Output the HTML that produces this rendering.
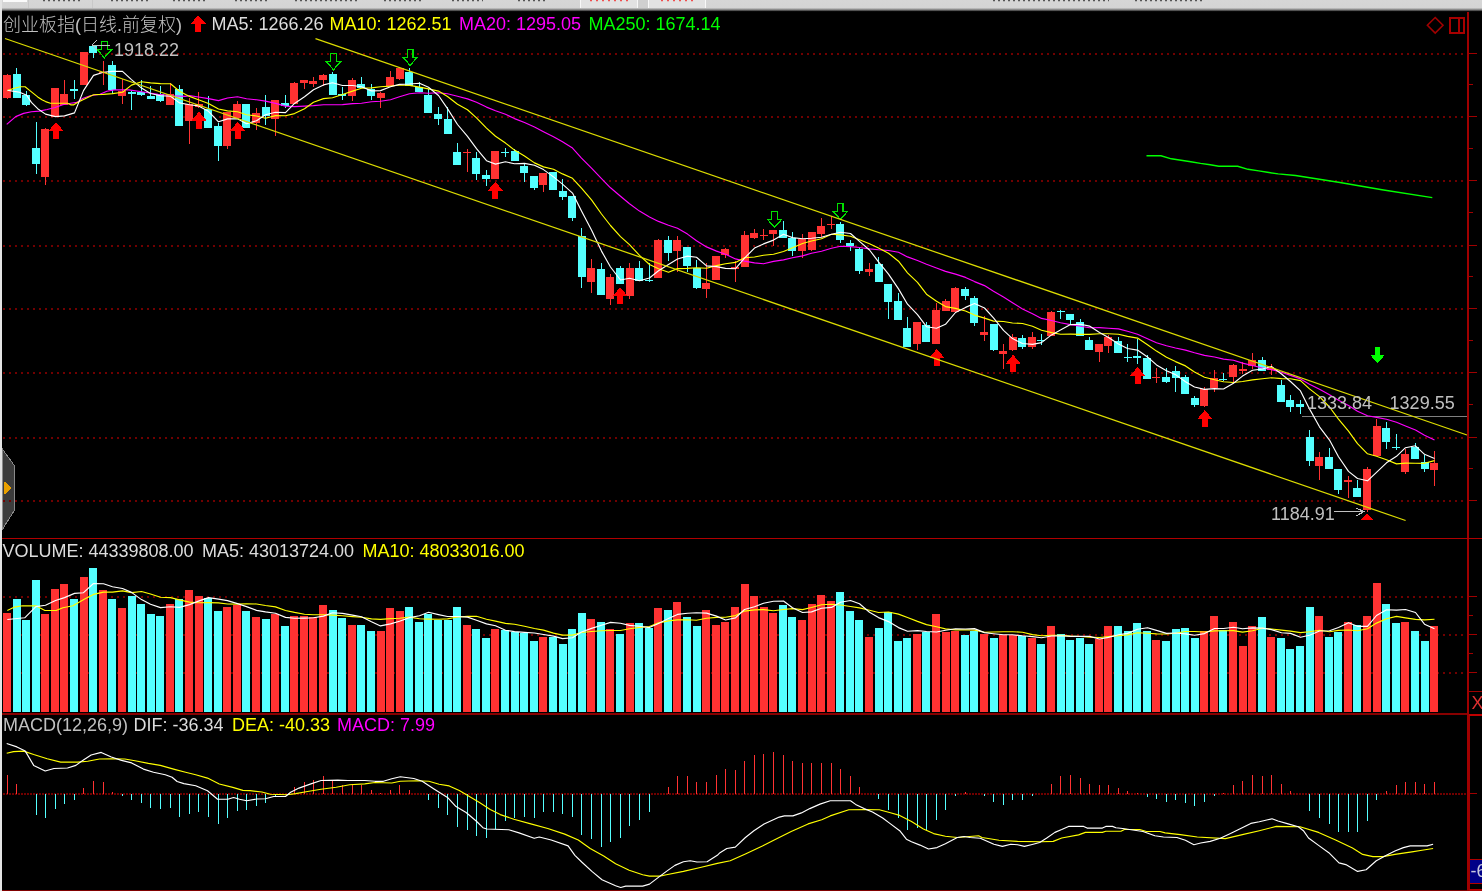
<!DOCTYPE html>
<html><head><meta charset="utf-8"><title>创业板指</title><style>
html,body{margin:0;padding:0;background:#000;width:1482px;height:891px;overflow:hidden}
#top{position:absolute;left:0;top:0;width:1482px;height:12px;background:linear-gradient(#d6d6d6 0,#d4d4d4 7.5px,#a8a8a8 9px,#606060 10.3px,#000 11.6px)}
#lb{position:absolute;left:0;top:0;width:2px;height:891px;background:#e4e4e4}
svg{position:absolute;left:0;top:0;display:block}
</style></head><body>
<svg width="1482" height="891" viewBox="0 0 1482 891">
<g shape-rendering="crispEdges">
<polygon fill="#3c3c3c" stroke="#8a8a8a" stroke-width="1" points="2,448.5 14.5,465.8 14.5,510.2 2,530"/>
<polygon fill="#e8a000" points="3.5,480.6 11.4,488 3.5,495.4"/>
<line x1="3" y1="54" x2="1466" y2="54" stroke="#700000" stroke-width="2" stroke-dasharray="2 4"/>
<line x1="3" y1="117" x2="1466" y2="117" stroke="#700000" stroke-width="2" stroke-dasharray="2 4"/>
<line x1="3" y1="181" x2="1466" y2="181" stroke="#700000" stroke-width="2" stroke-dasharray="2 4"/>
<line x1="3" y1="246" x2="1466" y2="246" stroke="#700000" stroke-width="2" stroke-dasharray="2 4"/>
<line x1="3" y1="309" x2="1466" y2="309" stroke="#700000" stroke-width="2" stroke-dasharray="2 4"/>
<line x1="3" y1="373" x2="1466" y2="373" stroke="#700000" stroke-width="2" stroke-dasharray="2 4"/>
<line x1="3" y1="438" x2="1466" y2="438" stroke="#700000" stroke-width="2" stroke-dasharray="2 4"/>
<line x1="3" y1="501" x2="1466" y2="501" stroke="#700000" stroke-width="2" stroke-dasharray="2 4"/>
<line x1="3" y1="597" x2="1466" y2="597" stroke="#700000" stroke-width="2" stroke-dasharray="2 4"/>
<line x1="3" y1="635" x2="1466" y2="635" stroke="#700000" stroke-width="2" stroke-dasharray="2 4"/>
<line x1="3" y1="673" x2="1466" y2="673" stroke="#700000" stroke-width="2" stroke-dasharray="2 4"/>
<line x1="3" y1="794" x2="1466" y2="794" stroke="#700000" stroke-width="2" stroke-dasharray="2 1"/>
<rect x="1302" y="416" width="166" height="1" fill="#808080"/>
<polyline fill="none" stroke="#00ff00" stroke-width="1.4" shape-rendering="auto" points="1146.5,155.8 1161,155.8 1171.3,158.8 1181,160.3 1190.8,161.7 1200.5,163.4 1210.2,164.8 1218.8,166.3 1237.7,166.3 1248,169.3 1258.8,170.9 1267.4,172.3 1278.2,173.9 1295.5,175.5 1340,182.5 1382,189.8 1432.3,197.6"/>
<rect x="7" y="74" width="1" height="25" fill="#ff3232"/>
<rect x="3" y="75" width="8" height="23" fill="#ff3232"/>
<rect x="16" y="68" width="1" height="30" fill="#54ffff"/>
<rect x="13" y="74" width="8" height="24" fill="#54ffff"/>
<rect x="26" y="91" width="1" height="15" fill="#54ffff"/>
<rect x="22" y="95" width="8" height="10" fill="#54ffff"/>
<rect x="36" y="122" width="1" height="52" fill="#54ffff"/>
<rect x="32" y="148" width="8" height="16" fill="#54ffff"/>
<rect x="45" y="128" width="1" height="57" fill="#ff3232"/>
<rect x="41" y="129" width="8" height="48" fill="#ff3232"/>
<rect x="55" y="88" width="1" height="29" fill="#ff3232"/>
<rect x="51" y="88" width="8" height="29" fill="#ff3232"/>
<rect x="64" y="80" width="1" height="25" fill="#ff3232"/>
<rect x="60" y="94" width="8" height="11" fill="#ff3232"/>
<rect x="74" y="80" width="1" height="19" fill="#54ffff"/>
<rect x="70" y="89" width="8" height="2" fill="#54ffff"/>
<rect x="83" y="52" width="1" height="33" fill="#ff3232"/>
<rect x="80" y="52" width="8" height="33" fill="#ff3232"/>
<rect x="93" y="45" width="1" height="13" fill="#54ffff"/>
<rect x="89" y="46" width="8" height="7" fill="#54ffff"/>
<rect x="103" y="61" width="1" height="24" fill="#ff3232"/>
<rect x="99" y="72" width="8" height="1" fill="#ff3232"/>
<rect x="112" y="61" width="1" height="33" fill="#54ffff"/>
<rect x="108" y="65" width="8" height="25" fill="#54ffff"/>
<rect x="122" y="79" width="1" height="25" fill="#ff3232"/>
<rect x="118" y="91" width="8" height="5" fill="#ff3232"/>
<rect x="131" y="91" width="1" height="19" fill="#54ffff"/>
<rect x="128" y="92" width="8" height="2" fill="#54ffff"/>
<rect x="141" y="80" width="1" height="16" fill="#54ffff"/>
<rect x="137" y="92" width="8" height="3" fill="#54ffff"/>
<rect x="150" y="86" width="1" height="13" fill="#54ffff"/>
<rect x="147" y="96" width="8" height="3" fill="#54ffff"/>
<rect x="160" y="86" width="1" height="16" fill="#54ffff"/>
<rect x="156" y="94" width="8" height="7" fill="#54ffff"/>
<rect x="170" y="83" width="1" height="22" fill="#ff3232"/>
<rect x="166" y="94" width="8" height="11" fill="#ff3232"/>
<rect x="179" y="85" width="1" height="41" fill="#54ffff"/>
<rect x="175" y="89" width="8" height="37" fill="#54ffff"/>
<rect x="189" y="98" width="1" height="46" fill="#ff3232"/>
<rect x="185" y="104" width="8" height="17" fill="#ff3232"/>
<rect x="198" y="92" width="1" height="16" fill="#ff3232"/>
<rect x="195" y="104" width="8" height="3" fill="#ff3232"/>
<rect x="208" y="96" width="1" height="32" fill="#54ffff"/>
<rect x="204" y="109" width="8" height="19" fill="#54ffff"/>
<rect x="218" y="123" width="1" height="38" fill="#54ffff"/>
<rect x="214" y="126" width="8" height="20" fill="#54ffff"/>
<rect x="227" y="112" width="1" height="37" fill="#ff3232"/>
<rect x="223" y="112" width="8" height="34" fill="#ff3232"/>
<rect x="237" y="101" width="1" height="17" fill="#ff3232"/>
<rect x="233" y="104" width="8" height="14" fill="#ff3232"/>
<rect x="246" y="104" width="1" height="24" fill="#54ffff"/>
<rect x="242" y="104" width="8" height="24" fill="#54ffff"/>
<rect x="256" y="108" width="1" height="22" fill="#ff3232"/>
<rect x="252" y="113" width="8" height="10" fill="#ff3232"/>
<rect x="265" y="95" width="1" height="30" fill="#54ffff"/>
<rect x="262" y="107" width="8" height="9" fill="#54ffff"/>
<rect x="275" y="100" width="1" height="36" fill="#ff3232"/>
<rect x="271" y="100" width="8" height="19" fill="#ff3232"/>
<rect x="285" y="95" width="1" height="13" fill="#54ffff"/>
<rect x="281" y="103" width="8" height="3" fill="#54ffff"/>
<rect x="294" y="82" width="1" height="22" fill="#ff3232"/>
<rect x="290" y="83" width="8" height="21" fill="#ff3232"/>
<rect x="304" y="80" width="1" height="9" fill="#ff3232"/>
<rect x="300" y="80" width="8" height="3" fill="#ff3232"/>
<rect x="313" y="77" width="1" height="10" fill="#ff3232"/>
<rect x="309" y="81" width="8" height="3" fill="#ff3232"/>
<rect x="323" y="74" width="1" height="12" fill="#ff3232"/>
<rect x="319" y="75" width="8" height="5" fill="#ff3232"/>
<rect x="332" y="72" width="1" height="23" fill="#54ffff"/>
<rect x="329" y="74" width="8" height="21" fill="#54ffff"/>
<rect x="342" y="87" width="1" height="13" fill="#54ffff"/>
<rect x="338" y="94" width="8" height="2" fill="#54ffff"/>
<rect x="352" y="78" width="1" height="23" fill="#ff3232"/>
<rect x="348" y="80" width="8" height="16" fill="#ff3232"/>
<rect x="361" y="77" width="1" height="11" fill="#54ffff"/>
<rect x="357" y="84" width="8" height="4" fill="#54ffff"/>
<rect x="371" y="84" width="1" height="16" fill="#54ffff"/>
<rect x="367" y="89" width="8" height="7" fill="#54ffff"/>
<rect x="380" y="92" width="1" height="16" fill="#ff3232"/>
<rect x="377" y="93" width="8" height="5" fill="#ff3232"/>
<rect x="390" y="71" width="1" height="15" fill="#ff3232"/>
<rect x="386" y="77" width="8" height="9" fill="#ff3232"/>
<rect x="399" y="68" width="1" height="12" fill="#ff3232"/>
<rect x="396" y="68" width="8" height="11" fill="#ff3232"/>
<rect x="409" y="68" width="1" height="18" fill="#54ffff"/>
<rect x="405" y="72" width="8" height="14" fill="#54ffff"/>
<rect x="419" y="82" width="1" height="10" fill="#54ffff"/>
<rect x="415" y="87" width="8" height="5" fill="#54ffff"/>
<rect x="428" y="89" width="1" height="24" fill="#54ffff"/>
<rect x="424" y="95" width="8" height="18" fill="#54ffff"/>
<rect x="438" y="107" width="1" height="18" fill="#54ffff"/>
<rect x="434" y="114" width="8" height="5" fill="#54ffff"/>
<rect x="447" y="107" width="1" height="27" fill="#54ffff"/>
<rect x="444" y="119" width="8" height="15" fill="#54ffff"/>
<rect x="457" y="143" width="1" height="22" fill="#54ffff"/>
<rect x="453" y="152" width="8" height="13" fill="#54ffff"/>
<rect x="467" y="149" width="1" height="23" fill="#ff3232"/>
<rect x="463" y="152" width="8" height="1" fill="#ff3232"/>
<rect x="476" y="152" width="1" height="28" fill="#54ffff"/>
<rect x="472" y="158" width="8" height="16" fill="#54ffff"/>
<rect x="486" y="170" width="1" height="16" fill="#54ffff"/>
<rect x="482" y="175" width="8" height="4" fill="#54ffff"/>
<rect x="495" y="151" width="1" height="28" fill="#ff3232"/>
<rect x="491" y="151" width="8" height="28" fill="#ff3232"/>
<rect x="505" y="148" width="1" height="9" fill="#54ffff"/>
<rect x="501" y="152" width="8" height="1" fill="#54ffff"/>
<rect x="514" y="149" width="1" height="12" fill="#54ffff"/>
<rect x="511" y="151" width="8" height="10" fill="#54ffff"/>
<rect x="524" y="163" width="1" height="19" fill="#54ffff"/>
<rect x="520" y="166" width="8" height="7" fill="#54ffff"/>
<rect x="534" y="176" width="1" height="14" fill="#54ffff"/>
<rect x="530" y="176" width="8" height="12" fill="#54ffff"/>
<rect x="543" y="173" width="1" height="19" fill="#ff3232"/>
<rect x="539" y="173" width="8" height="12" fill="#ff3232"/>
<rect x="553" y="172" width="1" height="18" fill="#54ffff"/>
<rect x="549" y="172" width="8" height="18" fill="#54ffff"/>
<rect x="562" y="179" width="1" height="21" fill="#54ffff"/>
<rect x="559" y="191" width="8" height="6" fill="#54ffff"/>
<rect x="572" y="196" width="1" height="25" fill="#54ffff"/>
<rect x="568" y="196" width="8" height="22" fill="#54ffff"/>
<rect x="581" y="228" width="1" height="60" fill="#54ffff"/>
<rect x="578" y="236" width="8" height="41" fill="#54ffff"/>
<rect x="591" y="259" width="1" height="34" fill="#ff3232"/>
<rect x="587" y="268" width="8" height="14" fill="#ff3232"/>
<rect x="601" y="263" width="1" height="32" fill="#54ffff"/>
<rect x="597" y="269" width="8" height="26" fill="#54ffff"/>
<rect x="610" y="274" width="1" height="31" fill="#ff3232"/>
<rect x="606" y="277" width="8" height="22" fill="#ff3232"/>
<rect x="620" y="266" width="1" height="18" fill="#54ffff"/>
<rect x="616" y="268" width="8" height="16" fill="#54ffff"/>
<rect x="629" y="263" width="1" height="36" fill="#ff3232"/>
<rect x="626" y="268" width="8" height="28" fill="#ff3232"/>
<rect x="639" y="261" width="1" height="20" fill="#54ffff"/>
<rect x="635" y="268" width="8" height="13" fill="#54ffff"/>
<rect x="649" y="263" width="1" height="19" fill="#54ffff"/>
<rect x="645" y="280" width="8" height="1" fill="#54ffff"/>
<rect x="658" y="239" width="1" height="39" fill="#ff3232"/>
<rect x="654" y="240" width="8" height="38" fill="#ff3232"/>
<rect x="668" y="236" width="1" height="25" fill="#54ffff"/>
<rect x="664" y="240" width="8" height="13" fill="#54ffff"/>
<rect x="677" y="236" width="1" height="36" fill="#ff3232"/>
<rect x="673" y="240" width="8" height="11" fill="#ff3232"/>
<rect x="687" y="247" width="1" height="25" fill="#54ffff"/>
<rect x="683" y="247" width="8" height="19" fill="#54ffff"/>
<rect x="696" y="260" width="1" height="29" fill="#54ffff"/>
<rect x="693" y="268" width="8" height="20" fill="#54ffff"/>
<rect x="706" y="263" width="1" height="35" fill="#ff3232"/>
<rect x="702" y="283" width="8" height="6" fill="#ff3232"/>
<rect x="716" y="256" width="1" height="24" fill="#ff3232"/>
<rect x="712" y="256" width="8" height="24" fill="#ff3232"/>
<rect x="725" y="248" width="1" height="10" fill="#ff3232"/>
<rect x="721" y="249" width="8" height="6" fill="#ff3232"/>
<rect x="735" y="261" width="1" height="21" fill="#ff3232"/>
<rect x="731" y="267" width="8" height="2" fill="#ff3232"/>
<rect x="744" y="231" width="1" height="36" fill="#ff3232"/>
<rect x="741" y="235" width="8" height="32" fill="#ff3232"/>
<rect x="754" y="229" width="1" height="10" fill="#ff3232"/>
<rect x="750" y="233" width="8" height="5" fill="#ff3232"/>
<rect x="763" y="229" width="1" height="11" fill="#ff3232"/>
<rect x="760" y="235" width="8" height="1" fill="#ff3232"/>
<rect x="773" y="230" width="1" height="16" fill="#ff3232"/>
<rect x="769" y="230" width="8" height="4" fill="#ff3232"/>
<rect x="783" y="221" width="1" height="17" fill="#54ffff"/>
<rect x="779" y="230" width="8" height="8" fill="#54ffff"/>
<rect x="792" y="232" width="1" height="24" fill="#54ffff"/>
<rect x="788" y="238" width="8" height="13" fill="#54ffff"/>
<rect x="802" y="234" width="1" height="24" fill="#ff3232"/>
<rect x="798" y="239" width="8" height="12" fill="#ff3232"/>
<rect x="811" y="232" width="1" height="19" fill="#ff3232"/>
<rect x="808" y="232" width="8" height="18" fill="#ff3232"/>
<rect x="821" y="218" width="1" height="19" fill="#ff3232"/>
<rect x="817" y="226" width="8" height="8" fill="#ff3232"/>
<rect x="831" y="216" width="1" height="13" fill="#ff3232"/>
<rect x="827" y="224" width="8" height="1" fill="#ff3232"/>
<rect x="840" y="222" width="1" height="21" fill="#54ffff"/>
<rect x="836" y="224" width="8" height="16" fill="#54ffff"/>
<rect x="850" y="240" width="1" height="11" fill="#54ffff"/>
<rect x="846" y="243" width="8" height="3" fill="#54ffff"/>
<rect x="859" y="247" width="1" height="27" fill="#54ffff"/>
<rect x="855" y="249" width="8" height="22" fill="#54ffff"/>
<rect x="869" y="263" width="1" height="13" fill="#ff3232"/>
<rect x="865" y="269" width="8" height="3" fill="#ff3232"/>
<rect x="878" y="257" width="1" height="25" fill="#54ffff"/>
<rect x="875" y="264" width="8" height="18" fill="#54ffff"/>
<rect x="888" y="284" width="1" height="35" fill="#54ffff"/>
<rect x="884" y="284" width="8" height="18" fill="#54ffff"/>
<rect x="898" y="293" width="1" height="27" fill="#54ffff"/>
<rect x="894" y="301" width="8" height="19" fill="#54ffff"/>
<rect x="907" y="317" width="1" height="30" fill="#54ffff"/>
<rect x="903" y="328" width="8" height="19" fill="#54ffff"/>
<rect x="917" y="322" width="1" height="28" fill="#ff3232"/>
<rect x="913" y="322" width="8" height="22" fill="#ff3232"/>
<rect x="926" y="322" width="1" height="20" fill="#54ffff"/>
<rect x="922" y="325" width="8" height="17" fill="#54ffff"/>
<rect x="936" y="303" width="1" height="41" fill="#ff3232"/>
<rect x="932" y="310" width="8" height="34" fill="#ff3232"/>
<rect x="945" y="299" width="1" height="12" fill="#ff3232"/>
<rect x="942" y="301" width="8" height="10" fill="#ff3232"/>
<rect x="955" y="287" width="1" height="25" fill="#ff3232"/>
<rect x="951" y="288" width="8" height="24" fill="#ff3232"/>
<rect x="965" y="287" width="1" height="13" fill="#54ffff"/>
<rect x="961" y="289" width="8" height="7" fill="#54ffff"/>
<rect x="974" y="296" width="1" height="30" fill="#54ffff"/>
<rect x="970" y="298" width="8" height="25" fill="#54ffff"/>
<rect x="984" y="316" width="1" height="25" fill="#ff3232"/>
<rect x="980" y="332" width="8" height="3" fill="#ff3232"/>
<rect x="993" y="324" width="1" height="27" fill="#54ffff"/>
<rect x="990" y="324" width="8" height="26" fill="#54ffff"/>
<rect x="1003" y="344" width="1" height="25" fill="#ff3232"/>
<rect x="999" y="351" width="8" height="3" fill="#ff3232"/>
<rect x="1012" y="334" width="1" height="17" fill="#ff3232"/>
<rect x="1009" y="337" width="8" height="13" fill="#ff3232"/>
<rect x="1022" y="335" width="1" height="14" fill="#54ffff"/>
<rect x="1018" y="338" width="8" height="9" fill="#54ffff"/>
<rect x="1032" y="332" width="1" height="17" fill="#ff3232"/>
<rect x="1028" y="337" width="8" height="10" fill="#ff3232"/>
<rect x="1041" y="334" width="1" height="11" fill="#54ffff"/>
<rect x="1037" y="340" width="8" height="1" fill="#54ffff"/>
<rect x="1051" y="311" width="1" height="25" fill="#ff3232"/>
<rect x="1047" y="312" width="8" height="24" fill="#ff3232"/>
<rect x="1060" y="310" width="1" height="9" fill="#54ffff"/>
<rect x="1057" y="311" width="8" height="1" fill="#54ffff"/>
<rect x="1070" y="314" width="1" height="10" fill="#54ffff"/>
<rect x="1066" y="314" width="8" height="6" fill="#54ffff"/>
<rect x="1080" y="319" width="1" height="17" fill="#54ffff"/>
<rect x="1076" y="322" width="8" height="14" fill="#54ffff"/>
<rect x="1089" y="337" width="1" height="13" fill="#54ffff"/>
<rect x="1085" y="340" width="8" height="10" fill="#54ffff"/>
<rect x="1099" y="344" width="1" height="18" fill="#ff3232"/>
<rect x="1095" y="344" width="8" height="8" fill="#ff3232"/>
<rect x="1108" y="335" width="1" height="18" fill="#ff3232"/>
<rect x="1104" y="337" width="8" height="9" fill="#ff3232"/>
<rect x="1118" y="337" width="1" height="16" fill="#54ffff"/>
<rect x="1114" y="341" width="8" height="12" fill="#54ffff"/>
<rect x="1127" y="344" width="1" height="18" fill="#54ffff"/>
<rect x="1124" y="357" width="8" height="1" fill="#54ffff"/>
<rect x="1137" y="339" width="1" height="25" fill="#54ffff"/>
<rect x="1133" y="356" width="8" height="2" fill="#54ffff"/>
<rect x="1147" y="355" width="1" height="24" fill="#54ffff"/>
<rect x="1143" y="358" width="8" height="21" fill="#54ffff"/>
<rect x="1156" y="368" width="1" height="15" fill="#ff3232"/>
<rect x="1152" y="377" width="8" height="1" fill="#ff3232"/>
<rect x="1166" y="368" width="1" height="15" fill="#54ffff"/>
<rect x="1162" y="377" width="8" height="5" fill="#54ffff"/>
<rect x="1175" y="366" width="1" height="26" fill="#54ffff"/>
<rect x="1172" y="371" width="8" height="7" fill="#54ffff"/>
<rect x="1185" y="375" width="1" height="19" fill="#54ffff"/>
<rect x="1181" y="377" width="8" height="17" fill="#54ffff"/>
<rect x="1194" y="396" width="1" height="11" fill="#54ffff"/>
<rect x="1191" y="398" width="8" height="7" fill="#54ffff"/>
<rect x="1204" y="387" width="1" height="20" fill="#ff3232"/>
<rect x="1200" y="389" width="8" height="17" fill="#ff3232"/>
<rect x="1214" y="370" width="1" height="22" fill="#ff3232"/>
<rect x="1210" y="378" width="8" height="10" fill="#ff3232"/>
<rect x="1223" y="373" width="1" height="8" fill="#54ffff"/>
<rect x="1219" y="379" width="8" height="1" fill="#54ffff"/>
<rect x="1233" y="364" width="1" height="18" fill="#ff3232"/>
<rect x="1229" y="365" width="8" height="12" fill="#ff3232"/>
<rect x="1242" y="362" width="1" height="12" fill="#ff3232"/>
<rect x="1239" y="369" width="8" height="2" fill="#ff3232"/>
<rect x="1252" y="353" width="1" height="16" fill="#ff3232"/>
<rect x="1248" y="360" width="8" height="6" fill="#ff3232"/>
<rect x="1262" y="357" width="1" height="14" fill="#54ffff"/>
<rect x="1258" y="360" width="8" height="11" fill="#54ffff"/>
<rect x="1271" y="364" width="1" height="11" fill="#ff3232"/>
<rect x="1267" y="368" width="8" height="2" fill="#ff3232"/>
<rect x="1281" y="380" width="1" height="22" fill="#54ffff"/>
<rect x="1277" y="385" width="8" height="17" fill="#54ffff"/>
<rect x="1290" y="395" width="1" height="17" fill="#54ffff"/>
<rect x="1286" y="400" width="8" height="7" fill="#54ffff"/>
<rect x="1300" y="400" width="1" height="14" fill="#54ffff"/>
<rect x="1296" y="404" width="8" height="3" fill="#54ffff"/>
<rect x="1309" y="430" width="1" height="36" fill="#54ffff"/>
<rect x="1306" y="437" width="8" height="24" fill="#54ffff"/>
<rect x="1319" y="452" width="1" height="28" fill="#ff3232"/>
<rect x="1315" y="457" width="8" height="9" fill="#ff3232"/>
<rect x="1329" y="448" width="1" height="21" fill="#54ffff"/>
<rect x="1325" y="457" width="8" height="12" fill="#54ffff"/>
<rect x="1338" y="469" width="1" height="25" fill="#54ffff"/>
<rect x="1334" y="469" width="8" height="21" fill="#54ffff"/>
<rect x="1348" y="476" width="1" height="22" fill="#ff3232"/>
<rect x="1344" y="480" width="8" height="2" fill="#ff3232"/>
<rect x="1357" y="480" width="1" height="17" fill="#54ffff"/>
<rect x="1353" y="488" width="8" height="9" fill="#54ffff"/>
<rect x="1367" y="467" width="1" height="45" fill="#ff3232"/>
<rect x="1363" y="469" width="8" height="41" fill="#ff3232"/>
<rect x="1376" y="419" width="1" height="37" fill="#ff3232"/>
<rect x="1373" y="426" width="8" height="30" fill="#ff3232"/>
<rect x="1386" y="422" width="1" height="27" fill="#54ffff"/>
<rect x="1382" y="428" width="8" height="14" fill="#54ffff"/>
<rect x="1396" y="434" width="1" height="16" fill="#54ffff"/>
<rect x="1392" y="447" width="8" height="1" fill="#54ffff"/>
<rect x="1405" y="449" width="1" height="25" fill="#ff3232"/>
<rect x="1401" y="454" width="8" height="18" fill="#ff3232"/>
<rect x="1415" y="443" width="1" height="16" fill="#54ffff"/>
<rect x="1411" y="447" width="8" height="12" fill="#54ffff"/>
<rect x="1424" y="455" width="1" height="17" fill="#54ffff"/>
<rect x="1421" y="462" width="8" height="7" fill="#54ffff"/>
<rect x="1434" y="451" width="1" height="35" fill="#ff3232"/>
<rect x="1430" y="463" width="8" height="7" fill="#ff3232"/>
<polygon fill="#ff0000" points="56,122 63.5,131 59,131 59,139 53,139 53,131 48.5,131"/>
<polygon fill="#ff0000" points="199,111.6 206.5,120.6 202,120.6 202,128.6 196,128.6 196,120.6 191.5,120.6"/>
<polygon fill="#ff0000" points="237.8,121.7 245.3,130.7 240.8,130.7 240.8,138.7 234.8,138.7 234.8,130.7 230.3,130.7"/>
<polygon fill="#ff0000" points="495.4,181.6 502.9,190.6 498.4,190.6 498.4,198.6 492.4,198.6 492.4,190.6 487.9,190.6"/>
<polygon fill="#ff0000" points="620.2,287.2 627.7,296.2 623.2,296.2 623.2,304.2 617.2,304.2 617.2,296.2 612.7,296.2"/>
<polygon fill="#ff0000" points="936.8,348.8 944.3,357.8 939.8,357.8 939.8,365.8 933.8,365.8 933.8,357.8 929.3,357.8"/>
<polygon fill="#ff0000" points="1013.1,354.7 1020.6,363.7 1016.1,363.7 1016.1,371.7 1010.1,371.7 1010.1,363.7 1005.6,363.7"/>
<polygon fill="#ff0000" points="1137.6,366.9 1145.1,375.9 1140.6,375.9 1140.6,383.9 1134.6,383.9 1134.6,375.9 1130.1,375.9"/>
<polygon fill="#ff0000" points="1204.9,410 1212.4,419 1207.9,419 1207.9,427 1201.9,427 1201.9,419 1197.4,419"/>
<polygon fill="none" stroke="#00e000" stroke-width="1.3" points="101.60000000000001,41.7 107.2,41.7 107.2,49.7 111.60000000000001,49.7 104.4,57.7 97.2,49.7 101.60000000000001,49.7"/>
<polygon fill="none" stroke="#00e000" stroke-width="1.3" points="330.7,53.7 336.3,53.7 336.3,61.7 340.7,61.7 333.5,69.7 326.3,61.7 330.7,61.7"/>
<polygon fill="none" stroke="#00e000" stroke-width="1.3" points="407.3,49.3 412.90000000000003,49.3 412.90000000000003,57.3 417.3,57.3 410.1,65.3 402.90000000000003,57.3 407.3,57.3"/>
<polygon fill="none" stroke="#00e000" stroke-width="1.3" points="771.8000000000001,211.2 777.4,211.2 777.4,219.2 781.8000000000001,219.2 774.6,227.2 767.4,219.2 771.8000000000001,219.2"/>
<polygon fill="none" stroke="#00e000" stroke-width="1.3" points="837.5,203.4 843.0999999999999,203.4 843.0999999999999,211.4 847.5,211.4 840.3,219.4 833.0999999999999,211.4 837.5,211.4"/>
<polygon fill="#00ff00" points="1374.7,347.1 1380.3,347.1 1380.3,355.1 1384.7,355.1 1377.5,363.1 1370.3,355.1 1374.7,355.1"/>
<polygon fill="#ff0000" points="1367,513.8 1373.4,519.8 1360.8,519.8"/>
<line x1="1334" y1="511.6" x2="1364" y2="511.6" stroke="#c0c0c0" stroke-width="1"/>
<polyline fill="none" stroke="#c0c0c0" stroke-width="1" points="1356,508 1364,511.6 1356,516"/>
<line x1="92" y1="45" x2="110" y2="45" stroke="#c0c0c0" stroke-width="1"/>
<polyline fill="none" stroke="#c0c0c0" stroke-width="1" points="97,40 92,45 97,50"/>
<polyline fill="none" stroke="#ff00ff" stroke-width="1.15" stroke-linejoin="round" shape-rendering="auto" points="6.7,124.4 15.7,116.6 23.6,113.4 31.4,111.8 39.3,111.1 47.1,109.5 55.0,107.5 62.8,104.8 70.7,103.2 77.0,102.4 82.5,98.5 90.3,95.7 100.0,94.2 106.9,91.3 114.2,89.9 128.8,89.9 143.4,92.0 158.0,94.2 172.6,95.7 185.0,96.4 189.5,95.6 198.5,97.0 208.5,98.6 218.5,100.6 227.5,98.0 237.5,96.8 246.5,98.8 256.5,99.8 265.5,101.1 275.5,103.4 285.5,106.1 294.5,106.6 304.5,106.1 313.5,105.6 323.5,104.7 332.5,104.7 342.5,104.6 352.5,103.6 361.5,103.3 371.5,101.8 380.5,101.2 390.5,99.8 399.5,96.8 409.5,93.8 419.5,92.8 428.5,93.3 438.5,92.8 447.5,93.8 457.5,96.2 467.5,98.9 476.5,102.3 486.5,107.1 495.5,110.7 505.5,114.3 514.5,118.6 524.5,122.5 534.5,127.0 543.5,131.7 553.5,136.8 562.5,141.8 572.5,148.1 581.5,158.1 591.5,168.1 601.5,178.6 610.5,187.8 620.5,196.3 629.5,203.8 639.5,211.1 649.5,216.9 658.5,221.4 668.5,225.3 677.5,228.3 687.5,234.1 696.5,240.8 706.5,246.9 716.5,251.1 725.5,254.2 735.5,258.9 744.5,261.1 754.5,262.9 763.5,263.8 773.5,261.4 783.5,259.9 792.5,257.8 802.5,255.9 811.5,253.3 821.5,251.2 831.5,248.3 840.5,246.3 850.5,246.6 859.5,247.5 869.5,248.9 878.5,249.8 888.5,250.5 898.5,252.3 907.5,256.9 917.5,260.5 926.5,264.3 936.5,268.0 945.5,271.4 955.5,274.1 965.5,277.4 974.5,281.6 984.5,285.6 993.5,291.2 1003.5,297.1 1012.5,302.7 1022.5,308.9 1032.5,313.7 1041.5,318.4 1051.5,320.5 1060.5,322.7 1070.5,324.6 1080.5,326.2 1089.5,327.7 1099.5,327.6 1108.5,328.3 1118.5,328.9 1127.5,331.3 1137.5,334.2 1147.5,338.7 1156.5,342.7 1166.5,345.7 1175.5,348.0 1185.5,350.1 1194.5,352.8 1204.5,355.4 1214.5,357.0 1223.5,359.1 1233.5,360.3 1242.5,363.1 1252.5,365.5 1262.5,368.0 1271.5,369.6 1281.5,372.2 1290.5,375.4 1300.5,378.9 1309.5,384.3 1319.5,389.2 1329.5,394.8 1338.5,400.3 1348.5,405.5 1357.5,411.2 1367.5,415.8 1376.5,417.4 1386.5,419.2 1396.5,422.2 1405.5,426.0 1415.5,430.0 1424.5,435.2 1434.5,439.9"/>
<polyline fill="none" stroke="#ffff00" stroke-width="1.15" stroke-linejoin="round" shape-rendering="auto" points="7.5,90.6 14.1,88.3 20.4,86.7 25.1,86.7 29.9,90.6 37.7,96.9 42.4,100.1 45.6,101.6 50.3,103.2 67.6,103.2 70.7,104.8 73.8,104.8 77.0,102.8 82.5,100.1 93.5,94.8 103.5,94.4 112.5,93.6 122.5,92.2 131.5,85.1 141.5,81.8 150.5,82.9 160.5,83.6 170.5,83.8 179.5,91.2 189.5,96.4 198.5,99.7 208.5,103.5 218.5,109.0 227.5,110.9 237.5,111.8 246.5,114.8 256.5,116.0 265.5,118.3 275.5,115.6 285.5,115.7 294.5,113.6 304.5,108.8 313.5,102.2 323.5,98.6 332.5,97.7 342.5,94.5 352.5,91.1 361.5,88.3 371.5,87.9 380.5,86.7 390.5,86.1 399.5,85.0 409.5,85.4 419.5,87.1 428.5,88.9 438.5,91.1 447.5,96.5 457.5,104.2 467.5,109.8 476.5,117.9 486.5,128.1 495.5,136.3 505.5,143.1 514.5,150.1 524.5,156.0 534.5,162.9 543.5,166.9 553.5,169.3 562.5,173.9 572.5,178.3 581.5,188.1 591.5,199.9 601.5,214.0 610.5,225.5 620.5,236.6 629.5,244.6 639.5,255.4 649.5,264.5 658.5,268.8 668.5,272.3 677.5,268.6 687.5,268.4 696.5,267.7 706.5,268.3 716.5,265.6 725.5,263.7 735.5,262.4 744.5,257.7 754.5,257.0 763.5,255.2 773.5,254.2 783.5,251.5 792.5,247.8 802.5,243.5 811.5,241.0 821.5,238.7 831.5,234.3 840.5,234.9 850.5,236.2 859.5,239.8 869.5,243.7 878.5,248.1 888.5,253.2 898.5,261.2 907.5,272.8 917.5,282.4 926.5,294.2 936.5,301.2 945.5,306.6 955.5,308.4 965.5,311.0 974.5,315.1 984.5,318.1 993.5,321.1 1003.5,321.5 1012.5,323.0 1022.5,323.5 1032.5,326.2 1041.5,330.2 1051.5,332.6 1060.5,334.3 1070.5,334.1 1080.5,334.4 1089.5,334.4 1099.5,333.7 1108.5,333.7 1118.5,334.2 1127.5,336.4 1137.5,338.1 1147.5,344.7 1156.5,351.1 1166.5,357.3 1175.5,361.6 1185.5,365.9 1194.5,371.9 1204.5,377.2 1214.5,379.7 1223.5,381.8 1233.5,382.5 1242.5,381.5 1252.5,379.9 1262.5,378.8 1271.5,377.7 1281.5,378.6 1290.5,378.8 1300.5,380.6 1309.5,388.9 1319.5,396.6 1329.5,407.0 1338.5,419.1 1348.5,431.1 1357.5,443.7 1367.5,453.8 1376.5,456.2 1386.5,459.7 1396.5,463.9 1405.5,463.1 1415.5,463.3 1424.5,463.3 1434.5,460.6"/>
<polyline fill="none" stroke="#ffffff" stroke-width="1.15" stroke-linejoin="round" shape-rendering="auto" points="7.5,90.2 14.1,91.4 19.6,92.2 26.7,95.3 31.4,102.4 37.7,108.7 45.5,114.1 55.5,116.6 64.5,115.9 74.5,112.9 83.5,90.6 93.5,75.4 103.5,72.2 112.5,71.4 122.5,71.4 131.5,79.6 141.5,88.1 150.5,93.5 160.5,95.7 170.5,96.3 179.5,102.9 189.5,104.7 198.5,105.9 208.5,111.3 218.5,121.8 227.5,118.9 237.5,118.8 246.5,123.7 256.5,120.8 265.5,114.8 275.5,112.2 285.5,112.6 294.5,103.4 304.5,96.7 313.5,89.7 323.5,84.9 332.5,82.8 342.5,85.5 352.5,85.5 361.5,86.8 371.5,90.9 380.5,90.6 390.5,86.8 399.5,84.4 409.5,84.0 419.5,83.2 428.5,87.2 438.5,95.5 447.5,108.6 457.5,124.5 467.5,136.4 476.5,148.7 486.5,160.7 495.5,164.1 505.5,161.8 514.5,163.7 524.5,163.4 534.5,165.2 543.5,169.6 553.5,176.9 562.5,184.1 572.5,193.1 581.5,211.1 591.5,230.1 601.5,251.1 610.5,267.0 620.5,280.0 629.5,278.2 639.5,280.7 649.5,278.0 658.5,270.7 668.5,264.5 677.5,259.0 687.5,256.1 696.5,257.3 706.5,265.9 716.5,266.6 725.5,268.4 735.5,268.7 744.5,258.1 754.5,248.1 763.5,243.9 773.5,240.1 783.5,234.3 792.5,237.6 802.5,238.8 811.5,238.2 821.5,237.3 831.5,234.3 840.5,232.2 850.5,233.5 859.5,241.4 869.5,250.0 878.5,261.8 888.5,274.1 898.5,288.9 907.5,304.2 917.5,314.7 926.5,326.7 936.5,328.2 945.5,324.3 955.5,312.5 965.5,307.4 974.5,303.5 984.5,308.0 993.5,317.9 1003.5,330.4 1012.5,338.6 1022.5,343.5 1032.5,344.4 1041.5,342.6 1051.5,334.9 1060.5,330.0 1070.5,324.6 1080.5,324.3 1089.5,326.1 1099.5,332.5 1108.5,337.4 1118.5,343.9 1127.5,348.5 1137.5,350.1 1147.5,356.9 1156.5,364.9 1166.5,370.7 1175.5,374.6 1185.5,381.7 1194.5,387.0 1204.5,389.4 1214.5,388.6 1223.5,389.0 1233.5,383.2 1242.5,376.1 1252.5,370.3 1262.5,369.0 1271.5,366.5 1281.5,374.0 1290.5,381.5 1300.5,390.9 1309.5,408.9 1319.5,426.8 1329.5,440.1 1338.5,456.7 1348.5,471.4 1357.5,478.5 1367.5,480.8 1376.5,472.4 1386.5,462.8 1396.5,456.3 1405.5,447.7 1415.5,445.8 1424.5,454.3 1434.5,458.5"/>
<line x1="5" y1="38.5" x2="1405.6" y2="520.5" stroke="#dcdc00" stroke-width="1.25" shape-rendering="auto"/>
<line x1="315.5" y1="38.7" x2="1467" y2="435" stroke="#dcdc00" stroke-width="1.25" shape-rendering="auto"/>
<rect x="3" y="613" width="8" height="99" fill="#ff3232"/>
<rect x="13" y="599" width="8" height="113" fill="#54ffff"/>
<rect x="22" y="620" width="8" height="92" fill="#54ffff"/>
<rect x="32" y="580" width="8" height="132" fill="#54ffff"/>
<rect x="41" y="614" width="8" height="98" fill="#ff3232"/>
<rect x="51" y="589" width="8" height="123" fill="#ff3232"/>
<rect x="60" y="584" width="8" height="128" fill="#ff3232"/>
<rect x="70" y="599" width="8" height="113" fill="#54ffff"/>
<rect x="80" y="577" width="8" height="135" fill="#ff3232"/>
<rect x="89" y="568" width="8" height="144" fill="#54ffff"/>
<rect x="99" y="590" width="8" height="122" fill="#ff3232"/>
<rect x="108" y="599" width="8" height="113" fill="#54ffff"/>
<rect x="118" y="608" width="8" height="104" fill="#ff3232"/>
<rect x="128" y="596" width="8" height="116" fill="#54ffff"/>
<rect x="137" y="604" width="8" height="108" fill="#54ffff"/>
<rect x="147" y="614" width="8" height="98" fill="#54ffff"/>
<rect x="156" y="616" width="8" height="96" fill="#54ffff"/>
<rect x="166" y="604" width="8" height="108" fill="#ff3232"/>
<rect x="175" y="599" width="8" height="113" fill="#54ffff"/>
<rect x="185" y="590" width="8" height="122" fill="#ff3232"/>
<rect x="195" y="596" width="8" height="116" fill="#ff3232"/>
<rect x="204" y="598" width="8" height="114" fill="#54ffff"/>
<rect x="214" y="611" width="8" height="101" fill="#54ffff"/>
<rect x="223" y="607" width="8" height="105" fill="#ff3232"/>
<rect x="233" y="605" width="8" height="107" fill="#ff3232"/>
<rect x="242" y="611" width="8" height="101" fill="#54ffff"/>
<rect x="252" y="617" width="8" height="95" fill="#ff3232"/>
<rect x="262" y="619" width="8" height="93" fill="#54ffff"/>
<rect x="271" y="614" width="8" height="98" fill="#ff3232"/>
<rect x="281" y="626" width="8" height="86" fill="#54ffff"/>
<rect x="290" y="616" width="8" height="96" fill="#ff3232"/>
<rect x="300" y="616" width="8" height="96" fill="#ff3232"/>
<rect x="309" y="617" width="8" height="95" fill="#ff3232"/>
<rect x="319" y="605" width="8" height="107" fill="#ff3232"/>
<rect x="329" y="610" width="8" height="102" fill="#54ffff"/>
<rect x="338" y="618" width="8" height="94" fill="#54ffff"/>
<rect x="348" y="625" width="8" height="87" fill="#ff3232"/>
<rect x="357" y="625" width="8" height="87" fill="#54ffff"/>
<rect x="367" y="631" width="8" height="81" fill="#54ffff"/>
<rect x="377" y="631" width="8" height="81" fill="#ff3232"/>
<rect x="386" y="608" width="8" height="104" fill="#ff3232"/>
<rect x="396" y="611" width="8" height="101" fill="#ff3232"/>
<rect x="405" y="607" width="8" height="105" fill="#54ffff"/>
<rect x="415" y="622" width="8" height="90" fill="#54ffff"/>
<rect x="424" y="614" width="8" height="98" fill="#54ffff"/>
<rect x="434" y="620" width="8" height="92" fill="#54ffff"/>
<rect x="444" y="620" width="8" height="92" fill="#54ffff"/>
<rect x="453" y="607" width="8" height="105" fill="#54ffff"/>
<rect x="463" y="625" width="8" height="87" fill="#ff3232"/>
<rect x="472" y="629" width="8" height="83" fill="#54ffff"/>
<rect x="482" y="638" width="8" height="74" fill="#54ffff"/>
<rect x="491" y="629" width="8" height="83" fill="#ff3232"/>
<rect x="501" y="630" width="8" height="82" fill="#54ffff"/>
<rect x="511" y="632" width="8" height="80" fill="#54ffff"/>
<rect x="520" y="633" width="8" height="79" fill="#54ffff"/>
<rect x="530" y="641" width="8" height="71" fill="#54ffff"/>
<rect x="539" y="637" width="8" height="75" fill="#ff3232"/>
<rect x="549" y="637" width="8" height="75" fill="#54ffff"/>
<rect x="559" y="644" width="8" height="68" fill="#54ffff"/>
<rect x="568" y="629" width="8" height="83" fill="#54ffff"/>
<rect x="578" y="613" width="8" height="99" fill="#54ffff"/>
<rect x="587" y="619" width="8" height="93" fill="#ff3232"/>
<rect x="597" y="622" width="8" height="90" fill="#54ffff"/>
<rect x="606" y="629" width="8" height="83" fill="#ff3232"/>
<rect x="616" y="634" width="8" height="78" fill="#54ffff"/>
<rect x="626" y="623" width="8" height="89" fill="#ff3232"/>
<rect x="635" y="623" width="8" height="89" fill="#54ffff"/>
<rect x="645" y="628" width="8" height="84" fill="#54ffff"/>
<rect x="654" y="608" width="8" height="104" fill="#ff3232"/>
<rect x="664" y="610" width="8" height="102" fill="#54ffff"/>
<rect x="673" y="602" width="8" height="110" fill="#ff3232"/>
<rect x="683" y="617" width="8" height="95" fill="#54ffff"/>
<rect x="693" y="626" width="8" height="86" fill="#54ffff"/>
<rect x="702" y="610" width="8" height="102" fill="#ff3232"/>
<rect x="712" y="625" width="8" height="87" fill="#ff3232"/>
<rect x="721" y="622" width="8" height="90" fill="#ff3232"/>
<rect x="731" y="607" width="8" height="105" fill="#ff3232"/>
<rect x="741" y="584" width="8" height="128" fill="#ff3232"/>
<rect x="750" y="596" width="8" height="116" fill="#ff3232"/>
<rect x="760" y="607" width="8" height="105" fill="#ff3232"/>
<rect x="769" y="613" width="8" height="99" fill="#ff3232"/>
<rect x="779" y="605" width="8" height="107" fill="#54ffff"/>
<rect x="788" y="617" width="8" height="95" fill="#54ffff"/>
<rect x="798" y="620" width="8" height="92" fill="#ff3232"/>
<rect x="808" y="604" width="8" height="108" fill="#ff3232"/>
<rect x="817" y="595" width="8" height="117" fill="#ff3232"/>
<rect x="827" y="601" width="8" height="111" fill="#ff3232"/>
<rect x="836" y="592" width="8" height="120" fill="#54ffff"/>
<rect x="846" y="611" width="8" height="101" fill="#54ffff"/>
<rect x="855" y="620" width="8" height="92" fill="#54ffff"/>
<rect x="865" y="637" width="8" height="75" fill="#ff3232"/>
<rect x="875" y="628" width="8" height="84" fill="#54ffff"/>
<rect x="884" y="612" width="8" height="100" fill="#54ffff"/>
<rect x="894" y="641" width="8" height="71" fill="#54ffff"/>
<rect x="903" y="638" width="8" height="74" fill="#54ffff"/>
<rect x="913" y="634" width="8" height="78" fill="#ff3232"/>
<rect x="922" y="632" width="8" height="80" fill="#54ffff"/>
<rect x="932" y="614" width="8" height="98" fill="#ff3232"/>
<rect x="942" y="632" width="8" height="80" fill="#ff3232"/>
<rect x="951" y="631" width="8" height="81" fill="#ff3232"/>
<rect x="961" y="635" width="8" height="77" fill="#54ffff"/>
<rect x="970" y="631" width="8" height="81" fill="#54ffff"/>
<rect x="980" y="634" width="8" height="78" fill="#ff3232"/>
<rect x="990" y="638" width="8" height="74" fill="#54ffff"/>
<rect x="999" y="635" width="8" height="77" fill="#ff3232"/>
<rect x="1009" y="635" width="8" height="77" fill="#ff3232"/>
<rect x="1018" y="636" width="8" height="76" fill="#54ffff"/>
<rect x="1028" y="638" width="8" height="74" fill="#ff3232"/>
<rect x="1037" y="644" width="8" height="68" fill="#54ffff"/>
<rect x="1047" y="626" width="8" height="86" fill="#ff3232"/>
<rect x="1057" y="634" width="8" height="78" fill="#54ffff"/>
<rect x="1066" y="640" width="8" height="72" fill="#54ffff"/>
<rect x="1076" y="638" width="8" height="74" fill="#54ffff"/>
<rect x="1085" y="644" width="8" height="68" fill="#54ffff"/>
<rect x="1095" y="639" width="8" height="73" fill="#ff3232"/>
<rect x="1104" y="626" width="8" height="86" fill="#ff3232"/>
<rect x="1114" y="626" width="8" height="86" fill="#54ffff"/>
<rect x="1124" y="631" width="8" height="81" fill="#54ffff"/>
<rect x="1133" y="623" width="8" height="89" fill="#54ffff"/>
<rect x="1143" y="631" width="8" height="81" fill="#54ffff"/>
<rect x="1152" y="640" width="8" height="72" fill="#ff3232"/>
<rect x="1162" y="641" width="8" height="71" fill="#54ffff"/>
<rect x="1172" y="629" width="8" height="83" fill="#54ffff"/>
<rect x="1181" y="628" width="8" height="84" fill="#54ffff"/>
<rect x="1191" y="638" width="8" height="74" fill="#54ffff"/>
<rect x="1200" y="631" width="8" height="81" fill="#ff3232"/>
<rect x="1210" y="616" width="8" height="96" fill="#ff3232"/>
<rect x="1219" y="630" width="8" height="82" fill="#54ffff"/>
<rect x="1229" y="622" width="8" height="90" fill="#ff3232"/>
<rect x="1239" y="646" width="8" height="66" fill="#ff3232"/>
<rect x="1248" y="626" width="8" height="86" fill="#ff3232"/>
<rect x="1258" y="617" width="8" height="95" fill="#54ffff"/>
<rect x="1267" y="637" width="8" height="75" fill="#ff3232"/>
<rect x="1277" y="638" width="8" height="74" fill="#54ffff"/>
<rect x="1286" y="649" width="8" height="63" fill="#54ffff"/>
<rect x="1296" y="646" width="8" height="66" fill="#54ffff"/>
<rect x="1306" y="607" width="8" height="105" fill="#54ffff"/>
<rect x="1315" y="616" width="8" height="96" fill="#ff3232"/>
<rect x="1325" y="637" width="8" height="75" fill="#54ffff"/>
<rect x="1334" y="632" width="8" height="80" fill="#54ffff"/>
<rect x="1344" y="622" width="8" height="90" fill="#ff3232"/>
<rect x="1353" y="625" width="8" height="87" fill="#54ffff"/>
<rect x="1363" y="616" width="8" height="96" fill="#ff3232"/>
<rect x="1373" y="583" width="8" height="129" fill="#ff3232"/>
<rect x="1382" y="604" width="8" height="108" fill="#54ffff"/>
<rect x="1392" y="623" width="8" height="89" fill="#54ffff"/>
<rect x="1401" y="622" width="8" height="90" fill="#ff3232"/>
<rect x="1411" y="631" width="8" height="81" fill="#54ffff"/>
<rect x="1421" y="641" width="8" height="71" fill="#54ffff"/>
<rect x="1430" y="626" width="8" height="86" fill="#ff3232"/>
<polyline fill="none" stroke="#ffff00" stroke-width="1.15" stroke-linejoin="round" shape-rendering="auto" points="7.3,610.5 14.6,607.1 22.4,605.8 35.9,605.8 44.9,610.5 56.1,610.5 62.9,607.7 73.0,605.8 84.2,599.3 93.5,594.4 103.5,592.1 112.5,592.1 122.5,590.9 131.5,592.6 141.5,591.5 150.5,594.0 160.5,597.2 170.5,597.6 179.5,599.9 189.5,602.1 198.5,602.7 208.5,602.6 218.5,602.9 227.5,604.0 237.5,604.1 246.5,603.8 256.5,604.0 265.5,605.5 275.5,606.9 285.5,610.5 294.5,612.4 304.5,614.2 313.5,614.8 323.5,614.7 332.5,615.1 342.5,615.8 352.5,616.6 361.5,617.2 371.5,618.9 380.5,619.4 390.5,618.6 399.5,618.2 409.5,617.1 419.5,618.8 428.5,619.1 438.5,619.3 447.5,618.9 457.5,617.0 467.5,616.4 476.5,616.3 486.5,619.3 495.5,621.1 505.5,623.4 514.5,624.3 524.5,626.3 534.5,628.5 543.5,630.1 553.5,633.1 562.5,635.1 572.5,635.1 581.5,632.5 591.5,631.5 601.5,630.7 610.5,630.5 620.5,630.5 629.5,628.7 639.5,627.4 649.5,626.5 658.5,622.9 668.5,620.9 677.5,619.9 687.5,619.8 696.5,620.2 706.5,618.2 716.5,617.4 725.5,617.2 735.5,615.6 744.5,611.1 754.5,609.9 763.5,609.6 773.5,610.7 783.5,609.5 792.5,608.6 802.5,609.6 811.5,607.5 821.5,604.8 831.5,604.2 840.5,605.0 850.5,606.5 859.5,607.9 869.5,610.3 878.5,612.5 888.5,612.0 898.5,614.1 907.5,617.5 917.5,621.4 926.5,624.6 936.5,626.8 945.5,628.9 955.5,629.9 965.5,629.8 974.5,630.1 984.5,632.3 993.5,632.0 1003.5,631.7 1012.5,631.8 1022.5,632.2 1032.5,634.6 1041.5,635.8 1051.5,635.3 1060.5,635.2 1070.5,636.1 1080.5,636.5 1089.5,637.1 1099.5,637.5 1108.5,636.6 1118.5,635.6 1127.5,634.9 1137.5,632.8 1147.5,633.3 1156.5,633.9 1166.5,634.0 1175.5,633.2 1185.5,631.5 1194.5,631.5 1204.5,632.0 1214.5,630.9 1223.5,630.7 1233.5,630.6 1242.5,632.1 1252.5,630.7 1262.5,628.3 1271.5,629.0 1281.5,630.1 1290.5,631.1 1300.5,632.6 1309.5,631.7 1319.5,630.3 1329.5,631.8 1338.5,630.4 1348.5,630.0 1357.5,630.8 1367.5,628.7 1376.5,623.1 1386.5,618.7 1396.5,616.4 1405.5,617.9 1415.5,619.4 1424.5,619.9 1434.5,619.3"/>
<polyline fill="none" stroke="#ffffff" stroke-width="1.15" stroke-linejoin="round" shape-rendering="auto" points="7.3,619.5 24.7,617.8 35.9,606.6 45.5,605.3 55.5,600.5 64.5,597.6 74.5,593.4 83.5,592.7 93.5,583.5 103.5,583.7 112.5,586.7 122.5,588.5 131.5,592.4 141.5,599.6 150.5,604.3 160.5,607.6 170.5,606.7 179.5,607.4 189.5,604.6 198.5,601.1 208.5,597.6 218.5,599.1 227.5,600.6 237.5,603.6 246.5,606.6 256.5,610.4 265.5,611.9 275.5,613.3 285.5,617.4 294.5,618.3 304.5,618.1 313.5,617.8 323.5,616.1 332.5,612.8 342.5,613.4 352.5,615.1 361.5,616.7 371.5,621.7 380.5,625.9 390.5,623.9 399.5,621.2 409.5,617.6 419.5,615.8 428.5,612.3 438.5,614.6 447.5,616.5 457.5,616.5 467.5,617.1 476.5,620.3 486.5,623.9 495.5,625.7 505.5,630.2 514.5,631.6 524.5,632.4 534.5,633.0 543.5,634.5 553.5,636.1 562.5,638.6 572.5,637.8 581.5,632.0 591.5,628.4 601.5,625.3 610.5,622.4 620.5,623.3 629.5,625.4 639.5,626.3 649.5,627.6 658.5,623.4 668.5,618.6 677.5,614.4 687.5,613.3 696.5,612.8 706.5,613.1 716.5,616.1 725.5,620.0 735.5,617.9 744.5,609.5 754.5,606.8 763.5,603.2 773.5,601.3 783.5,601.0 792.5,607.7 802.5,612.5 811.5,611.9 821.5,608.3 831.5,607.4 840.5,602.3 850.5,600.5 859.5,603.8 869.5,612.2 878.5,617.6 888.5,621.6 898.5,627.6 907.5,631.2 917.5,630.6 926.5,631.5 936.5,632.0 945.5,630.2 955.5,628.7 965.5,629.0 974.5,628.6 984.5,632.6 993.5,633.7 1003.5,634.7 1012.5,634.7 1022.5,635.8 1032.5,636.6 1041.5,637.8 1051.5,636.0 1060.5,635.7 1070.5,636.4 1080.5,636.4 1089.5,636.4 1099.5,639.0 1108.5,637.4 1118.5,634.7 1127.5,633.4 1137.5,629.2 1147.5,627.7 1156.5,630.4 1166.5,633.4 1175.5,633.0 1185.5,633.9 1194.5,635.3 1204.5,633.6 1214.5,628.5 1223.5,628.5 1233.5,627.3 1242.5,628.8 1252.5,627.9 1262.5,628.1 1271.5,629.6 1281.5,632.8 1290.5,633.4 1300.5,637.3 1309.5,635.2 1319.5,631.0 1329.5,630.8 1338.5,627.5 1348.5,622.7 1357.5,626.3 1367.5,626.3 1376.5,615.5 1386.5,609.8 1396.5,610.1 1405.5,609.5 1415.5,612.5 1424.5,624.2 1434.5,628.7"/>
<rect x="7" y="775" width="1" height="19" fill="#ff3232"/>
<rect x="16" y="784" width="1" height="10" fill="#ff3232"/>
<rect x="36" y="794" width="1" height="21" fill="#54ffff"/>
<rect x="45" y="794" width="1" height="24" fill="#54ffff"/>
<rect x="55" y="794" width="1" height="15" fill="#54ffff"/>
<rect x="64" y="794" width="1" height="10" fill="#54ffff"/>
<rect x="74" y="794" width="1" height="6" fill="#54ffff"/>
<rect x="83" y="788" width="1" height="6" fill="#ff3232"/>
<rect x="93" y="781" width="1" height="13" fill="#ff3232"/>
<rect x="103" y="782" width="1" height="12" fill="#ff3232"/>
<rect x="112" y="792" width="1" height="2" fill="#ff3232"/>
<rect x="122" y="794" width="1" height="2" fill="#54ffff"/>
<rect x="131" y="794" width="1" height="6" fill="#54ffff"/>
<rect x="141" y="794" width="1" height="9" fill="#54ffff"/>
<rect x="150" y="794" width="1" height="14" fill="#54ffff"/>
<rect x="160" y="794" width="1" height="15" fill="#54ffff"/>
<rect x="170" y="794" width="1" height="14" fill="#54ffff"/>
<rect x="179" y="794" width="1" height="23" fill="#54ffff"/>
<rect x="189" y="794" width="1" height="20" fill="#54ffff"/>
<rect x="198" y="794" width="1" height="18" fill="#54ffff"/>
<rect x="208" y="794" width="1" height="23" fill="#54ffff"/>
<rect x="218" y="794" width="1" height="30" fill="#54ffff"/>
<rect x="227" y="794" width="1" height="24" fill="#54ffff"/>
<rect x="237" y="794" width="1" height="17" fill="#54ffff"/>
<rect x="246" y="794" width="1" height="16" fill="#54ffff"/>
<rect x="256" y="794" width="1" height="12" fill="#54ffff"/>
<rect x="265" y="794" width="1" height="9" fill="#54ffff"/>
<rect x="275" y="794" width="1" height="2" fill="#54ffff"/>
<rect x="294" y="787" width="1" height="7" fill="#ff3232"/>
<rect x="304" y="782" width="1" height="12" fill="#ff3232"/>
<rect x="313" y="780" width="1" height="14" fill="#ff3232"/>
<rect x="323" y="776" width="1" height="18" fill="#ff3232"/>
<rect x="332" y="781" width="1" height="13" fill="#ff3232"/>
<rect x="342" y="785" width="1" height="9" fill="#ff3232"/>
<rect x="352" y="784" width="1" height="10" fill="#ff3232"/>
<rect x="361" y="785" width="1" height="9" fill="#ff3232"/>
<rect x="371" y="790" width="1" height="4" fill="#ff3232"/>
<rect x="380" y="793" width="1" height="1" fill="#ff3232"/>
<rect x="390" y="790" width="1" height="4" fill="#ff3232"/>
<rect x="399" y="785" width="1" height="9" fill="#ff3232"/>
<rect x="409" y="790" width="1" height="4" fill="#ff3232"/>
<rect x="428" y="794" width="1" height="6" fill="#54ffff"/>
<rect x="438" y="794" width="1" height="14" fill="#54ffff"/>
<rect x="447" y="794" width="1" height="21" fill="#54ffff"/>
<rect x="457" y="794" width="1" height="33" fill="#54ffff"/>
<rect x="467" y="794" width="1" height="36" fill="#54ffff"/>
<rect x="476" y="794" width="1" height="42" fill="#54ffff"/>
<rect x="486" y="794" width="1" height="44" fill="#54ffff"/>
<rect x="495" y="794" width="1" height="35" fill="#54ffff"/>
<rect x="505" y="794" width="1" height="27" fill="#54ffff"/>
<rect x="514" y="794" width="1" height="24" fill="#54ffff"/>
<rect x="524" y="794" width="1" height="23" fill="#54ffff"/>
<rect x="534" y="794" width="1" height="24" fill="#54ffff"/>
<rect x="543" y="794" width="1" height="18" fill="#54ffff"/>
<rect x="553" y="794" width="1" height="18" fill="#54ffff"/>
<rect x="562" y="794" width="1" height="20" fill="#54ffff"/>
<rect x="572" y="794" width="1" height="23" fill="#54ffff"/>
<rect x="581" y="794" width="1" height="41" fill="#54ffff"/>
<rect x="591" y="794" width="1" height="45" fill="#54ffff"/>
<rect x="601" y="794" width="1" height="53" fill="#54ffff"/>
<rect x="610" y="794" width="1" height="48" fill="#54ffff"/>
<rect x="620" y="794" width="1" height="44" fill="#54ffff"/>
<rect x="629" y="794" width="1" height="32" fill="#54ffff"/>
<rect x="639" y="794" width="1" height="26" fill="#54ffff"/>
<rect x="649" y="794" width="1" height="18" fill="#54ffff"/>
<rect x="668" y="787" width="1" height="7" fill="#ff3232"/>
<rect x="677" y="776" width="1" height="18" fill="#ff3232"/>
<rect x="687" y="776" width="1" height="18" fill="#ff3232"/>
<rect x="696" y="782" width="1" height="12" fill="#ff3232"/>
<rect x="706" y="782" width="1" height="12" fill="#ff3232"/>
<rect x="716" y="775" width="1" height="19" fill="#ff3232"/>
<rect x="725" y="769" width="1" height="25" fill="#ff3232"/>
<rect x="735" y="770" width="1" height="24" fill="#ff3232"/>
<rect x="744" y="761" width="1" height="33" fill="#ff3232"/>
<rect x="754" y="755" width="1" height="39" fill="#ff3232"/>
<rect x="763" y="754" width="1" height="40" fill="#ff3232"/>
<rect x="773" y="752" width="1" height="42" fill="#ff3232"/>
<rect x="783" y="755" width="1" height="39" fill="#ff3232"/>
<rect x="792" y="761" width="1" height="33" fill="#ff3232"/>
<rect x="802" y="763" width="1" height="31" fill="#ff3232"/>
<rect x="811" y="763" width="1" height="31" fill="#ff3232"/>
<rect x="821" y="763" width="1" height="31" fill="#ff3232"/>
<rect x="831" y="763" width="1" height="31" fill="#ff3232"/>
<rect x="840" y="769" width="1" height="25" fill="#ff3232"/>
<rect x="850" y="776" width="1" height="18" fill="#ff3232"/>
<rect x="859" y="787" width="1" height="7" fill="#ff3232"/>
<rect x="878" y="794" width="1" height="5" fill="#54ffff"/>
<rect x="888" y="794" width="1" height="16" fill="#54ffff"/>
<rect x="898" y="794" width="1" height="24" fill="#54ffff"/>
<rect x="907" y="794" width="1" height="36" fill="#54ffff"/>
<rect x="917" y="794" width="1" height="34" fill="#54ffff"/>
<rect x="926" y="794" width="1" height="36" fill="#54ffff"/>
<rect x="936" y="794" width="1" height="26" fill="#54ffff"/>
<rect x="945" y="794" width="1" height="16" fill="#54ffff"/>
<rect x="955" y="794" width="1" height="2" fill="#54ffff"/>
<rect x="965" y="792" width="1" height="2" fill="#ff3232"/>
<rect x="984" y="794" width="1" height="2" fill="#54ffff"/>
<rect x="993" y="794" width="1" height="8" fill="#54ffff"/>
<rect x="1003" y="794" width="1" height="11" fill="#54ffff"/>
<rect x="1012" y="794" width="1" height="6" fill="#54ffff"/>
<rect x="1022" y="794" width="1" height="6" fill="#54ffff"/>
<rect x="1032" y="794" width="1" height="2" fill="#54ffff"/>
<rect x="1051" y="784" width="1" height="10" fill="#ff3232"/>
<rect x="1060" y="776" width="1" height="18" fill="#ff3232"/>
<rect x="1070" y="775" width="1" height="19" fill="#ff3232"/>
<rect x="1080" y="778" width="1" height="16" fill="#ff3232"/>
<rect x="1089" y="784" width="1" height="10" fill="#ff3232"/>
<rect x="1099" y="785" width="1" height="9" fill="#ff3232"/>
<rect x="1108" y="785" width="1" height="9" fill="#ff3232"/>
<rect x="1118" y="788" width="1" height="6" fill="#ff3232"/>
<rect x="1127" y="791" width="1" height="3" fill="#ff3232"/>
<rect x="1137" y="793" width="1" height="1" fill="#ff3232"/>
<rect x="1147" y="794" width="1" height="3" fill="#54ffff"/>
<rect x="1156" y="794" width="1" height="5" fill="#54ffff"/>
<rect x="1166" y="794" width="1" height="8" fill="#54ffff"/>
<rect x="1175" y="794" width="1" height="6" fill="#54ffff"/>
<rect x="1185" y="794" width="1" height="9" fill="#54ffff"/>
<rect x="1194" y="794" width="1" height="12" fill="#54ffff"/>
<rect x="1204" y="794" width="1" height="8" fill="#54ffff"/>
<rect x="1214" y="794" width="1" height="2" fill="#54ffff"/>
<rect x="1223" y="793" width="1" height="1" fill="#ff3232"/>
<rect x="1233" y="785" width="1" height="9" fill="#ff3232"/>
<rect x="1242" y="781" width="1" height="13" fill="#ff3232"/>
<rect x="1252" y="775" width="1" height="19" fill="#ff3232"/>
<rect x="1262" y="776" width="1" height="18" fill="#ff3232"/>
<rect x="1271" y="775" width="1" height="19" fill="#ff3232"/>
<rect x="1281" y="784" width="1" height="10" fill="#ff3232"/>
<rect x="1290" y="791" width="1" height="3" fill="#ff3232"/>
<rect x="1309" y="794" width="1" height="17" fill="#54ffff"/>
<rect x="1319" y="794" width="1" height="24" fill="#54ffff"/>
<rect x="1329" y="794" width="1" height="30" fill="#54ffff"/>
<rect x="1338" y="794" width="1" height="38" fill="#54ffff"/>
<rect x="1348" y="794" width="1" height="38" fill="#54ffff"/>
<rect x="1357" y="794" width="1" height="38" fill="#54ffff"/>
<rect x="1367" y="794" width="1" height="27" fill="#54ffff"/>
<rect x="1376" y="794" width="1" height="6" fill="#54ffff"/>
<rect x="1386" y="791" width="1" height="3" fill="#ff3232"/>
<rect x="1396" y="785" width="1" height="9" fill="#ff3232"/>
<rect x="1405" y="782" width="1" height="12" fill="#ff3232"/>
<rect x="1415" y="782" width="1" height="12" fill="#ff3232"/>
<rect x="1424" y="784" width="1" height="10" fill="#ff3232"/>
<rect x="1434" y="782" width="1" height="12" fill="#ff3232"/>
<polyline fill="none" stroke="#ffff00" stroke-width="1.15" stroke-linejoin="round" shape-rendering="auto" points="6.7,753.3 13.5,751.6 23.6,751.1 33.7,754.5 47.2,758.7 60.7,762.1 77.6,762.1 87.7,761.2 99.5,759.0 111.3,758.7 124.8,759.0 135.0,760.7 148.4,763.4 160.3,765.4 175.4,769.6 185.6,772.2 195.7,774.7 207.5,778.1 219.3,784.0 232.8,787.4 242.9,790.4 250.1,790.6 261.9,792.0 270.4,794.3 287.2,794.8 295.7,793.6 307.5,791.5 321.0,789.3 336.2,787.2 349.6,784.7 364.8,783.9 375.0,782.5 391.8,783.0 400.3,781.3 417.1,780.8 428.9,781.3 439.1,784.2 449.2,785.9 459.3,790.6 469.4,796.5 479.5,802.4 490.2,809.5 500.3,814.6 513.9,819.3 530.8,823.9 547.8,828.5 564.7,834.1 578.3,840.0 590.2,848.5 603.7,856.1 615.6,863.7 629.2,870.2 642.7,874.7 649.5,876.1 659.7,876.1 666.4,874.7 683.4,871.4 700.3,867.5 717.3,863.4 730.2,860.7 745.4,853.9 762.4,845.9 774.2,840.0 791.2,831.5 808.1,823.9 821.7,819.7 830.2,815.9 848.8,809.8 864.1,809.5 879.3,809.8 889.5,812.5 899.7,815.4 911.5,821.4 923.4,829.0 933.6,833.6 945.4,836.3 957.3,837.5 978.6,835.8 982.0,837.5 999.0,840.3 1017.6,841.4 1041.4,841.7 1053.2,841.4 1061.7,838.0 1078.6,834.9 1085.4,832.4 1102.4,832.4 1105.8,831.2 1121.0,831.2 1124.4,829.5 1139.7,829.5 1146.4,831.5 1160.0,831.5 1165.1,832.9 1180.3,834.6 1197.3,837.0 1225.4,838.6 1242.4,834.6 1259.3,830.7 1276.3,826.4 1300.0,826.8 1318.6,832.4 1335.6,840.0 1352.5,848.1 1362.7,854.4 1372.9,856.6 1383.1,856.6 1394.9,854.4 1411.9,851.9 1422.0,850.2 1433.1,848.5"/>
<polyline fill="none" stroke="#ffffff" stroke-width="1.15" stroke-linejoin="round" shape-rendering="auto" points="6.7,743.5 16.9,746.9 25.3,751.1 33.7,765.4 45.2,771.0 54.0,768.5 67.5,768.0 75.9,765.4 82.7,760.4 91.1,755.0 101.2,752.4 111.3,757.0 121.5,760.4 131.6,762.9 143.4,769.1 153.5,772.2 165.3,774.7 172.1,777.2 177.1,781.5 183.9,783.6 195.7,785.7 207.5,790.7 217.6,799.2 227.7,799.2 233.6,797.5 239.5,799.2 246.7,800.7 256.9,799.0 265.3,798.7 273.7,796.5 285.5,796.5 290.6,792.3 299.0,788.1 310.9,783.9 321.0,780.5 337.8,780.1 348.0,780.5 364.8,780.5 375.0,781.3 383.4,781.3 391.8,778.8 400.3,776.8 413.8,778.5 422.2,781.3 434.0,788.9 447.5,797.4 456.0,806.6 466.1,812.5 476.2,821.0 482.9,827.7 486.8,829.0 508.8,829.8 519.0,832.9 534.2,838.3 539.3,837.0 551.2,840.0 568.1,845.9 574.9,855.3 581.7,862.0 591.9,871.4 602.0,879.8 615.6,885.8 620.7,887.5 625.8,886.1 642.7,886.1 649.5,884.1 659.7,876.4 666.4,871.4 674.9,865.4 683.4,861.7 690.2,860.7 697.0,862.0 707.1,861.7 717.3,855.3 720.0,852.7 726.8,848.5 735.3,847.1 745.4,837.5 753.9,830.7 764.1,823.9 779.3,817.1 784.4,815.9 792.9,815.9 801.4,812.9 809.8,808.6 820.0,804.1 830.2,800.7 850.5,800.7 855.6,804.4 864.1,808.6 872.5,812.0 882.7,818.0 889.5,823.1 899.7,830.7 906.4,839.2 911.5,841.7 920.0,845.1 928.5,849.0 937.0,847.6 945.4,843.7 957.3,837.5 964.1,836.5 970.2,837.5 980.3,838.3 993.9,844.2 1002.4,846.4 1010.8,844.2 1017.6,844.7 1024.4,846.4 1031.2,844.7 1039.7,842.5 1046.4,838.3 1054.9,832.4 1061.7,829.5 1068.5,826.4 1083.7,826.4 1087.1,828.1 1102.4,828.1 1105.8,826.4 1112.5,826.4 1115.9,827.8 1122.7,828.5 1143.0,831.5 1154.9,835.8 1163.4,837.0 1176.9,837.5 1185.4,840.3 1193.9,844.7 1200.7,843.0 1210.2,841.4 1220.3,838.3 1230.5,833.6 1240.7,828.5 1250.8,823.4 1259.3,821.7 1267.8,819.7 1272.0,818.8 1278.0,821.0 1288.1,823.9 1298.3,826.8 1303.4,830.7 1308.5,838.0 1318.6,845.4 1328.8,852.7 1339.0,862.9 1345.8,864.6 1357.6,871.4 1366.1,869.7 1376.3,860.7 1386.4,855.3 1394.9,851.0 1403.4,847.6 1410.2,845.9 1427.1,845.9 1433.1,844.2"/>
</g>
<g shape-rendering="crispEdges">
<rect x="1467" y="11" width="2" height="703" fill="#a00000"/>
<rect x="1467" y="714" width="3" height="177" fill="#a00000"/>
<rect x="1469" y="53" width="8" height="1" fill="#a00000"/>
<rect x="1469" y="84" width="4" height="1" fill="#a00000"/>
<rect x="1469" y="116" width="8" height="1" fill="#a00000"/>
<rect x="1469" y="148" width="4" height="1" fill="#a00000"/>
<rect x="1469" y="180" width="8" height="1" fill="#a00000"/>
<rect x="1469" y="212" width="4" height="1" fill="#a00000"/>
<rect x="1469" y="245" width="8" height="1" fill="#a00000"/>
<rect x="1469" y="276" width="4" height="1" fill="#a00000"/>
<rect x="1469" y="308" width="8" height="1" fill="#a00000"/>
<rect x="1469" y="340" width="4" height="1" fill="#a00000"/>
<rect x="1469" y="372" width="8" height="1" fill="#a00000"/>
<rect x="1469" y="404" width="4" height="1" fill="#a00000"/>
<rect x="1469" y="437" width="8" height="1" fill="#a00000"/>
<rect x="1469" y="468" width="4" height="1" fill="#a00000"/>
<rect x="1469" y="500" width="8" height="1" fill="#a00000"/>
<rect x="1469" y="596" width="8" height="1" fill="#a00000"/>
<rect x="1469" y="634" width="8" height="1" fill="#a00000"/>
<rect x="1469" y="672" width="8" height="1" fill="#a00000"/>
<rect x="1469" y="615" width="4" height="1" fill="#a00000"/>
<rect x="1469" y="653" width="4" height="1" fill="#a00000"/>
<rect x="1469" y="793" width="8" height="1" fill="#a00000"/>
<rect x="2" y="538" width="1480" height="1" fill="#b00000"/>
<rect x="2" y="713" width="1465" height="2" fill="#880000"/>
<rect x="1469" y="714" width="13" height="2" fill="#c00000"/>
<rect x="2" y="890" width="1465" height="1" fill="#800000"/>
<rect x="1469" y="889" width="13" height="2" fill="#b00000"/>
<rect x="1469" y="691" width="13" height="1" fill="#a00000"/>
<rect x="1470" y="859" width="12" height="25" fill="#b00000"/>
<rect x="1470" y="860" width="12" height="23" fill="#000088"/>
<polygon fill="none" stroke="#a00000" stroke-width="1.6" shape-rendering="auto" points="1435.2,17.5 1443,25.2 1435.2,33 1427.4,25.2"/>
<rect x="1450" y="18" width="14" height="15" fill="none" stroke="#a80000" stroke-width="2"/>
<rect x="1458" y="17" width="2" height="16" fill="#a80000"/>
<polygon fill="#ff0000" points="198.2,15.6 205.8,23.6 201.2,23.6 201.2,31.6 195.2,31.6 195.2,23.6 190.6,23.6"/>
</g>
<text x="3" y="30.5" fill="#c0c0c0" font-size="18" font-family='"Liberation Sans", "Noto Sans CJK SC", sans-serif' font-weight="300">创业板指(日线.前复权)</text>
<text x="211.5" y="30.3" fill="#dcdcdc" font-size="18" font-family='"Liberation Sans", Arial, sans-serif' >MA5: 1266.26</text>
<text x="329.5" y="30.3" fill="#ffff00" font-size="18" font-family='"Liberation Sans", Arial, sans-serif' >MA10: 1262.51</text>
<text x="459" y="30.3" fill="#ff00ff" font-size="18" font-family='"Liberation Sans", Arial, sans-serif' >MA20: 1295.05</text>
<text x="588.5" y="30.3" fill="#00ff00" font-size="18" font-family='"Liberation Sans", Arial, sans-serif' >MA250: 1674.14</text>
<text x="114" y="56" fill="#c0c0c0" font-size="18" font-family='"Liberation Sans", Arial, sans-serif' >1918.22</text>
<text x="1307" y="409.4" fill="#c0c0c0" font-size="18" font-family='"Liberation Sans", Arial, sans-serif' >1333.84</text>
<text x="1389.6" y="409.4" fill="#c0c0c0" font-size="18" font-family='"Liberation Sans", Arial, sans-serif' >1329.55</text>
<text x="1271" y="519.8" fill="#c0c0c0" font-size="18" font-family='"Liberation Sans", Arial, sans-serif' >1184.91</text>
<text x="2.5" y="557.3" fill="#dcdcdc" font-size="18" font-family='"Liberation Sans", Arial, sans-serif' >VOLUME: 44339808.00</text>
<text x="202" y="557.3" fill="#dcdcdc" font-size="18" font-family='"Liberation Sans", Arial, sans-serif' >MA5: 43013724.00</text>
<text x="362.5" y="557.3" fill="#ffff00" font-size="18" font-family='"Liberation Sans", Arial, sans-serif' >MA10: 48033016.00</text>
<text x="3" y="731" fill="#c0c0c0" font-size="18" font-family='"Liberation Sans", Arial, sans-serif' >MACD(12,26,9)</text>
<text x="133.5" y="731" fill="#dcdcdc" font-size="18" font-family='"Liberation Sans", Arial, sans-serif' >DIF: -36.34</text>
<text x="232" y="731" fill="#ffff00" font-size="18" font-family='"Liberation Sans", Arial, sans-serif' >DEA: -40.33</text>
<text x="337" y="731" fill="#ff00ff" font-size="18" font-family='"Liberation Sans", Arial, sans-serif' >MACD: 7.99</text>
<text x="1471.5" y="709" fill="#e03030" font-size="18" font-family='"Liberation Sans", Arial, sans-serif' >X</text>
<text x="1470.5" y="877" fill="#c8c8e0" font-size="18" font-family='"Liberation Sans", Arial, sans-serif' >-6</text>
</svg>
<div id="top"><div style="position:absolute;left:3px;top:0;width:24px;height:2px;background:#fafafa"></div><div style="position:absolute;left:28px;top:0;width:1px;height:8px;background:#c8c8c8"></div><div style="position:absolute;left:92px;top:0;width:1px;height:8px;background:#c8c8c8"></div><div style="position:absolute;left:580px;top:0;width:58px;height:8px;background:#e2e2e2;border-left:1px solid #f8f8f8;border-right:1px solid #f8f8f8;box-sizing:border-box"></div><div style="position:absolute;left:638px;top:0;width:10px;height:8px;background:#cfcfcf"></div><div style="position:absolute;left:648px;top:0;width:58px;height:8px;background:#e2e2e2;border-left:1px solid #f8f8f8;border-right:1px solid #f8f8f8;box-sizing:border-box"></div></div>
<div id="lb"></div>
<svg width="1482" height="4" style="position:absolute;left:0;top:0"><line x1="43" y1="0.6" x2="81" y2="0.6" stroke="#555" stroke-width="1.4" stroke-dasharray="2 3"/><line x1="111" y1="0.6" x2="150" y2="0.6" stroke="#555" stroke-width="1.4" stroke-dasharray="2 3"/><line x1="173" y1="0.6" x2="205" y2="0.6" stroke="#555" stroke-width="1.4" stroke-dasharray="2 3"/><line x1="235" y1="0.6" x2="270" y2="0.6" stroke="#555" stroke-width="1.4" stroke-dasharray="2 3"/><line x1="295" y1="0.6" x2="360" y2="0.6" stroke="#555" stroke-width="1.4" stroke-dasharray="2 3"/><line x1="384" y1="0.6" x2="421" y2="0.6" stroke="#555" stroke-width="1.4" stroke-dasharray="2 3"/><line x1="452" y1="0.6" x2="483" y2="0.6" stroke="#555" stroke-width="1.4" stroke-dasharray="2 3"/><line x1="518" y1="0.6" x2="547" y2="0.6" stroke="#555" stroke-width="1.4" stroke-dasharray="2 3"/><line x1="993" y1="0.6" x2="1109" y2="0.6" stroke="#555" stroke-width="1.4" stroke-dasharray="2 3"/><line x1="1135" y1="0.6" x2="1203" y2="0.6" stroke="#555" stroke-width="1.4" stroke-dasharray="2 3"/><line x1="590" y1="0.6" x2="629" y2="0.6" stroke="#f05050" stroke-width="1.4" stroke-dasharray="2 4"/><line x1="661" y1="0.6" x2="695" y2="0.6" stroke="#f05050" stroke-width="1.4" stroke-dasharray="2 4"/></svg>
</body></html>
